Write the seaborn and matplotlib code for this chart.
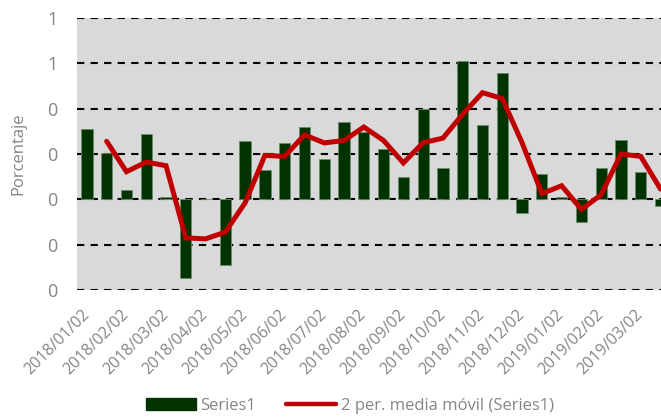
import numpy as np
import pandas as pd
import matplotlib
matplotlib.use("Agg")
import matplotlib.pyplot as plt
import seaborn as sns
from matplotlib.patches import Patch
from matplotlib.lines import Line2D

# valores quincenales
valores = [0.309, 0.203, 0.041, 0.288, 0.009, -0.349, 0.0, -0.289, 0.259, 0.129,
           0.250, 0.319, 0.179, 0.340, 0.298, 0.221, 0.100, 0.400, 0.140, 0.611,
           0.330, 0.559, -0.059, 0.110, 0.010, -0.099, 0.140, 0.260, 0.119, -0.028]

# etiquetas visibles (una de cada dos barras)
etiquetas = ["2018/01/02", "2018/02/02", "2018/03/02", "2018/04/02", "2018/05/02",
             "2018/06/02", "2018/07/02", "2018/08/02", "2018/09/02", "2018/10/02",
             "2018/11/02", "2018/12/02", "2019/01/02", "2019/02/02", "2019/03/02"]

y_ticks = [-0.4, -0.2, 0.0, 0.2, 0.4, 0.6, 0.8]

verde = "#003300"
rojo = "#C00000"
gris = "#858585"

df = pd.DataFrame({"pos": np.arange(len(valores)), "valor": valores})
df["media"] = df["valor"].rolling(2).mean()

sns.set_style("white")
plt.rcParams["font.family"] = ["Open Sans", "DejaVu Sans"]

fig = plt.figure(figsize=(6.61, 4.18), dpi=100)
ax = fig.add_axes([77 / 661, 1 - 290 / 418, (670.4 - 77) / 661, 272 / 418])
ax.set_facecolor("#D9D9D9")

sns.barplot(data=df, x="pos", y="valor", color=verde, width=0.57,
            edgecolor="#6b8a6b", linewidth=0.6, saturation=1, ax=ax, zorder=2)
ax.plot(df["pos"], df["media"], color=rojo, linewidth=3.6, zorder=3,
        solid_joinstyle="miter")

ax.set_xlim(-0.5, len(valores) - 0.5)
ax.set_ylim(-0.4, 0.8)
ax.set_yticks(y_ticks)
ax.set_yticklabels([f"{round(abs(v)):d}" for v in y_ticks])
ax.yaxis.grid(True, color="black", linestyle=(0, (3.5, 3)), linewidth=1.5)
ax.set_axisbelow(True)

ax.set_xticks(np.arange(0, len(valores), 2))
ax.set_xticklabels(etiquetas, rotation=45, ha="right", rotation_mode="anchor",
                   va="center")
ax.tick_params(axis="x", length=0, pad=16, labelsize=11.5, labelcolor=gris)
ax.tick_params(axis="y", length=0, pad=14, labelsize=13, labelcolor=gris)
ax.set_xlabel("")
ax.set_ylabel("Porcentaje", fontsize=12, color=gris, labelpad=15)
for s in ax.spines.values():
    s.set_visible(False)

handles = [Patch(facecolor=verde, edgecolor=verde),
           Line2D([0], [0], color=rojo, linewidth=3.2)]
fig.legend(handles, ["Series1", "2 per. media móvil (Series1)"],
           loc="center", bbox_to_anchor=(350 / 661, 1 - 406 / 418), ncol=2,
           frameon=False, fontsize=12, labelcolor=gris, handlelength=3.0,
           handletextpad=0.3, columnspacing=1.8)

fig.savefig("out.png", dpi=100)
